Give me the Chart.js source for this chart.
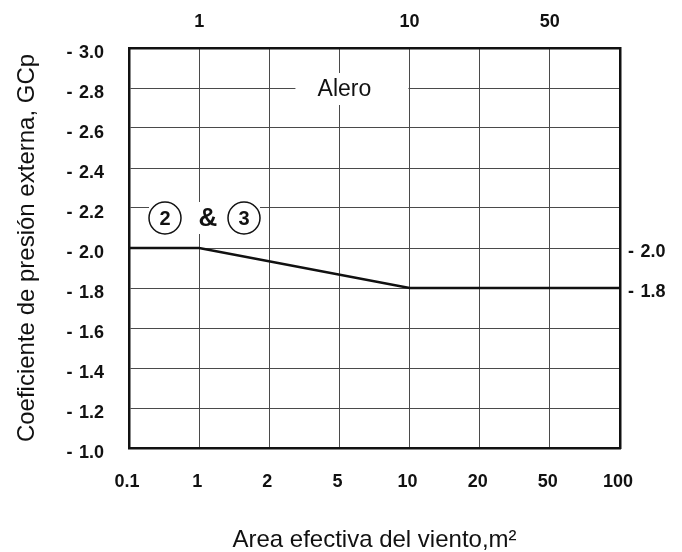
<!DOCTYPE html>
<html><head><meta charset="utf-8">
<script src="https://cdn.jsdelivr.net/npm/chart.js@4/dist/chart.umd.min.js"></script>
<style>html,body{margin:0;padding:0;background:#fff}#wrap{width:682px;height:552px;position:relative}</style>
</head><body><div id="wrap"><canvas id="c"></canvas></div>
<script>
// ---- data ----
const xTickLabels = ['0.1', '1', '2', '5', '10', '20', '50', '100'];
const xTopTickLabels = ['1', '10', '50'];
const areaValues = ['0.1', '1', '10', '100'];
const gcpValues = [-2.0, -2.0, -1.8, -1.8];
const yTickValues = [-3.0, -2.8, -2.6, -2.4, -2.2, -2.0, -1.8, -1.6, -1.4, -1.2, -1.0];
const yRightTickValues = [-2.0, -1.8];
const zoneLabels = ['2', '&', '3'];
const regionLabel = 'Alero';
const xTitle = 'Area efectiva del viento,m\u00B2';
const yTitle = 'Coeficiente de presi\u00F3n externa, GCp';

const FONT = "'Liberation Sans', Arial, sans-serif";
const tickFont = {family: FONT, size: 18, weight: 'bold'};
const fmtY = v => '- \u200A' + Math.abs(v).toFixed(1);

const annotations = {
  id: 'annotations',
  beforeDatasetsDraw(chart) {
    const {ctx, scales: {x, y}, chartArea} = chart;
    ctx.save();
    // Alero label with white box interrupting the grid
    const ax = x.getPixelForValue(xTickLabels.indexOf('5')) + 5;
    const ay = y.getPixelForValue(-2.8);
    ctx.fillStyle = '#fff';
    ctx.fillRect(ax - 49, ay - 15, 113, 32);
    ctx.font = `23px ${FONT}`;
    ctx.fillStyle = '#111';
    ctx.textAlign = 'center';
    ctx.textBaseline = 'middle';
    ctx.fillText(regionLabel, ax, ay + 2);
    // zone labels (2) & (3)
    const zy = y.getPixelForValue(-2.15);
    const r = 16;
    const cx = [chartArea.left + 36, chartArea.left + 79, chartArea.left + 115];
    ctx.fillStyle = '#fff';
    ctx.fillRect(cx[0] - r, zy - r, cx[2] - cx[0] + 2 * r, 2 * r);
    zoneLabels.forEach((t, i) => {
      if (t !== '&') {
        ctx.beginPath();
        ctx.arc(cx[i], zy, r, 0, Math.PI * 2);
        ctx.fillStyle = '#fff';
        ctx.fill();
        ctx.lineWidth = 1.5;
        ctx.strokeStyle = '#111';
        ctx.stroke();
        ctx.font = `bold 20px ${FONT}`;
      } else {
        ctx.font = `bold 26px ${FONT}`;
      }
      ctx.fillStyle = '#111';
      ctx.textAlign = 'center';
      ctx.textBaseline = 'middle';
      ctx.fillText(t, cx[i], zy + 1);
    });
    ctx.restore();
  }
};

new Chart(document.getElementById('c'), {
  type: 'line',
  data: {
    labels: xTickLabels,
    datasets: [{
      data: areaValues.map((a, i) => ({x: a, y: gcpValues[i]})),
      borderColor: '#111',
      borderWidth: 2.5,
      pointRadius: 0,
      tension: 0,
      fill: false
    }]
  },
  options: {
    responsive: true,
    maintainAspectRatio: false,
    animation: false,
    layout: {padding: 0},
    plugins: {legend: {display: false}, tooltip: {enabled: false}},
    scales: {
      x: {
        type: 'category', position: 'bottom', offset: false,
        afterFit: s => { s.height = 104; },
        ticks: {font: tickFont, color: '#111', padding: 23, maxRotation: 0, autoSkip: false, labelOffset: -2},
        grid: {color: '#4a4a4a', lineWidth: 1, drawTicks: false, offset: false},
        border: {display: true, color: '#111', width: 2.5},
        title: {display: true, text: xTitle, font: {family: FONT, size: 24, lineHeight: 1}, color: '#111', padding: {top: 0, bottom: 0}}
      },
      x2: {
        type: 'category', position: 'top', offset: false,
        afterBuildTicks: s => { s.ticks = s.ticks.filter(t => xTopTickLabels.includes(s.getLabelForValue(t.value))); },
        afterFit: s => { s.height = 48; },
        ticks: {callback: function (v) { return this.getLabelForValue(v); }, font: tickFont, color: '#111', padding: 15, maxRotation: 0, autoSkip: false},
        grid: {display: false, drawTicks: false, offset: false},
        border: {display: true, color: '#111', width: 2.5}
      },
      y: {
        type: 'linear', position: 'left', min: -3.0, max: -1.0, reverse: true,
        afterBuildTicks: s => { s.ticks = yTickValues.map(v => ({value: v})); },
        afterFit: s => { s.width = 129; },
        ticks: {callback: fmtY, font: tickFont, color: '#111', padding: 25, autoSkip: false, labelOffset: 5},
        grid: {color: '#4a4a4a', lineWidth: 1, drawTicks: false},
        border: {display: true, color: '#111', width: 2.5},
        title: {display: true, text: yTitle, font: {family: FONT, size: 24}, color: '#111', padding: {top: 13, bottom: 0}}
      },
      y2: {
        type: 'linear', position: 'right', min: -3.0, max: -1.0, reverse: true,
        afterBuildTicks: s => { s.ticks = yRightTickValues.map(v => ({value: v})); },
        afterFit: s => { s.width = 62; },
        ticks: {callback: fmtY, font: tickFont, color: '#111', padding: 8, autoSkip: false, labelOffset: 4},
        grid: {display: false, drawTicks: false},
        border: {display: true, color: '#111', width: 2.5}
      }
    }
  },
  plugins: [annotations]
});
</script>
</body></html>
